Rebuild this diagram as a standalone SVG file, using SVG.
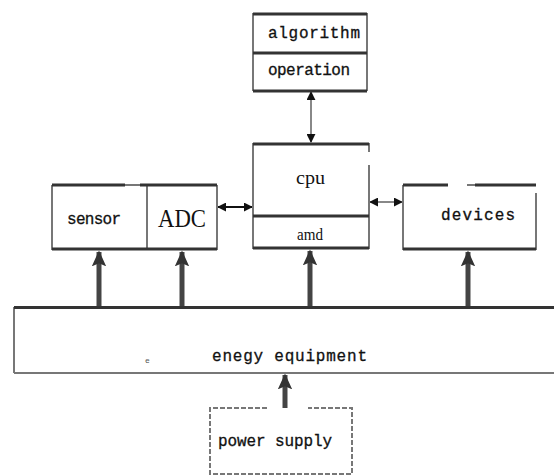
<svg xmlns="http://www.w3.org/2000/svg" width="554" height="475" viewBox="0 0 554 475">
<defs>
<style>
.bg{fill:#fff}
.thick{stroke:#333;stroke-width:3;fill:none}
.side{stroke:#777;stroke-width:2;fill:none}
.mono{font-family:"Liberation Mono","DejaVu Sans Mono",monospace;font-size:16px;fill:#111;stroke:#111;stroke-width:0.3}
.serif{font-family:"Liberation Serif","DejaVu Serif",serif;fill:#111}
.thin{stroke:#888;stroke-width:2;fill:none}
.blk{stroke:#111;stroke-width:2;fill:none}
.fat{stroke:#444;stroke-width:5;fill:none}
</style>
<marker id="ah" viewBox="0 0 10 10" refX="9" refY="5" markerWidth="9" markerHeight="9" markerUnits="userSpaceOnUse" orient="auto-start-reverse">
<path d="M0,0 L10,5 L0,10 Z" fill="#111"/>
</marker>
<marker id="big" viewBox="0 0 10 10" refX="9" refY="5" markerWidth="16" markerHeight="16" markerUnits="userSpaceOnUse" orient="auto">
<path d="M0,0.5 L10,5 L0,9.5 L2,5 Z" fill="#333"/>
</marker>
</defs>
<rect class="bg" x="0" y="0" width="554" height="475"/>

<g id="connectors">
<line class="thin" x1="311" y1="92" x2="311" y2="142" marker-start="url(#ah)" marker-end="url(#ah)"/>
<line class="blk" x1="218" y1="207" x2="252" y2="207" marker-start="url(#ah)" marker-end="url(#ah)"/>
<line class="thin" x1="370" y1="202" x2="402" y2="202" marker-start="url(#ah)" marker-end="url(#ah)"/>
<line class="fat" x1="99" y1="306" x2="99" y2="252" marker-end="url(#big)"/>
<line class="fat" x1="182" y1="306" x2="182" y2="252" marker-end="url(#big)"/>
<line class="fat" x1="310" y1="306" x2="310" y2="251" marker-end="url(#big)"/>
<line class="fat" x1="468" y1="306" x2="468" y2="252" marker-end="url(#big)"/>
<line class="fat" x1="285" y1="408" x2="285" y2="375" marker-end="url(#big)"/>
</g>

<g id="algorithm">
<rect class="bg" x="253" y="13" width="114" height="78"/>
<line class="side" x1="253" y1="13" x2="253" y2="91"/>
<line class="side" x1="367" y1="13" x2="367" y2="91"/>
<line class="thick" x1="253" y1="14" x2="367" y2="14"/>
<line class="thick" x1="253" y1="53" x2="367" y2="53"/>
<line class="thick" x1="253" y1="91" x2="367" y2="91"/>
<text class="mono" x="268" y="38" textLength="92">algorithm</text>
<text class="mono" x="268" y="75" textLength="82">operation</text>
</g>

<g id="cpu">
<rect class="bg" x="253" y="143" width="116" height="106"/>
<line class="side" x1="253" y1="143" x2="253" y2="249"/>
<line class="side" x1="369" y1="143" x2="369" y2="152"/>
<line class="side" x1="369" y1="165" x2="369" y2="249"/>
<line class="thick" x1="253" y1="144" x2="369" y2="144"/>
<line class="thick" x1="253" y1="216" x2="369" y2="216"/>
<line class="thick" x1="253" y1="248" x2="369" y2="248"/>
<text class="serif" x="296" y="184" font-size="18" textLength="29" lengthAdjust="spacingAndGlyphs">cpu</text>
<text class="serif" x="297" y="240" font-size="17" textLength="26" lengthAdjust="spacingAndGlyphs">amd</text>
</g>

<g id="sensor">
<rect class="bg" x="52" y="185" width="165" height="65"/>
<line class="side" x1="52" y1="185" x2="52" y2="250"/>
<line class="side" x1="217" y1="185" x2="217" y2="250"/>
<line class="side" x1="147" y1="185" x2="147" y2="250" stroke-width="3"/>
<line class="thick" x1="52" y1="185" x2="125" y2="185"/>
<line class="thick" x1="140" y1="185" x2="217" y2="185"/>
<line class="side" x1="125" y1="185" x2="140" y2="185"/>
<line class="thick" x1="52" y1="249" x2="217" y2="249"/>
<text class="mono" x="67" y="224" textLength="54">sensor</text>
<text class="serif" x="158" y="227" font-size="26" textLength="48" lengthAdjust="spacingAndGlyphs">ADC</text>
</g>

<g id="devices">
<rect class="bg" x="403" y="185" width="133" height="65"/>
<line class="side" x1="403" y1="185" x2="403" y2="250"/>
<line class="side" x1="536" y1="193" x2="536" y2="250"/>
<line class="thick" x1="403" y1="185" x2="448" y2="185"/>
<line class="side" x1="467" y1="185" x2="475" y2="185" stroke="#aaa"/>
<line class="thick" x1="475" y1="185" x2="536" y2="185"/>
<line class="thick" x1="403" y1="249" x2="536" y2="249"/>
<text class="mono" x="441" y="220" textLength="74">devices</text>
</g>

<g id="energy">
<rect class="bg" x="14" y="307" width="560" height="66"/>
<line class="side" x1="14" y1="307" x2="14" y2="373"/>
<line class="side" x1="14" y1="373" x2="554" y2="373" stroke="#555"/>
<line class="thick" x1="14" y1="307.5" x2="554" y2="307.5" stroke="#111"/>
<text x="145" y="363" font-family="Liberation Mono, monospace" font-size="8" fill="#555">e</text>
<text class="mono" x="212" y="361" textLength="155" font-size="17">enegy equipment</text>
</g>

<g id="power">
<path d="M267,408 H210 V474 H352 V408 H308" fill="none" stroke="#777" stroke-width="2" stroke-dasharray="5,2"/>
<text class="mono" x="218" y="446" textLength="114">power supply</text>
</g>
</svg>
